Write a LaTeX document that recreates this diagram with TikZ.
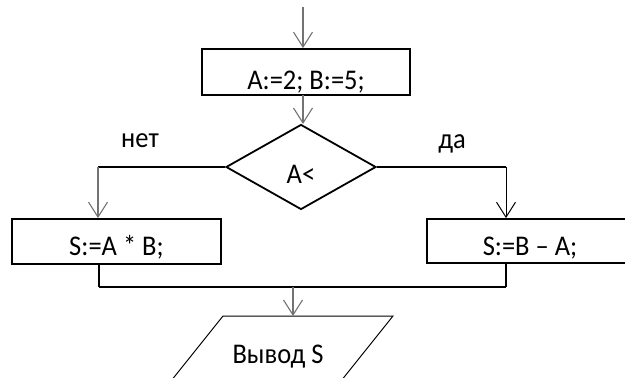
\documentclass[tikz,border=0pt]{standalone}
\usepackage{fontspec}
\setmainfont{Carlito}[FakeStretch=0.93]
\usetikzlibrary{arrows.meta,shapes.geometric}
\begin{document}
\begin{tikzpicture}[x=1pt,y=-1pt,
  every node/.style={font=\fontsize{28.5}{32}\selectfont},
  box/.style={draw=black, line width=1.8pt, rectangle, inner sep=0pt, text depth=6pt},
  dia/.style={draw=black, line width=1.8pt, diamond, inner sep=0pt, text depth=6pt},
  arr/.style={draw=black!55, line width=1.1pt, -{Straight Barb[length=15pt,width=19pt,line width=1.1pt]}},
  arrk/.style={draw=black, line width=1pt, -{Straight Barb[length=15pt,width=19pt,line width=1pt]}},
  conn/.style={draw=black, line width=1.8pt},
  thinconn/.style={draw=black, line width=1.4pt},
  lbl/.style={anchor=base, inner sep=0pt}
]
\useasboundingbox (0,0) rectangle (625,378);
\clip (0,0) rectangle (625,378);

% nodes
\node[box, minimum width=208pt, minimum height=46pt, text height=40pt] (b1) at (306,72) {A:=2; B:=5;};
\node[dia, minimum width=150pt, minimum height=85pt, text height=38pt] (d) at (301,167) {A<};
\node[box, minimum width=209pt, minimum height=45pt, text height=33pt] (lb) at (116.5,241.5) {S:=A * B;};
\node[box, minimum width=206pt, minimum height=44pt, text height=34pt] (rb) at (530,241) {S:=B -- A;};
\node[lbl] (no) at (140,147) {нет};
\node[lbl] (yes) at (452,148) {да};
\node[lbl] (out) at (278,363) {Вывод S};

% coordinates
\coordinate (start) at (303,7);
\coordinate (lj) at (98,167);
\coordinate (rj) at (506,167);
\coordinate (lbot) at (99,287);
\coordinate (rbot) at (506,287);
\coordinate (mj) at (293,287);
\coordinate (ptop) at (293,316);

% parallelogram
\draw[black, line width=1pt] (223,316) -- (393,316) -- (329,396) -- (159,396) -- cycle;

% connectors
\draw[arr] (start) -- (start |- b1.north);
\draw[arr] (303,95) -- (303,124);
\draw[conn] (d.west) -- (lj);
\draw[conn] (d.east) -- (rj);
\draw[arr] (lj) -- (lj |- lb.north);
\draw[arrk] (rj) -- (rj |- rb.north);
\draw[thinconn] (lbot |- lb.south) -- (lbot);
\draw[thinconn] (rbot |- rb.south) -- (rbot);
\draw[conn] (lbot) -- (rbot);
\draw[arr] (mj) -- (ptop);
\end{tikzpicture}
\end{document}
